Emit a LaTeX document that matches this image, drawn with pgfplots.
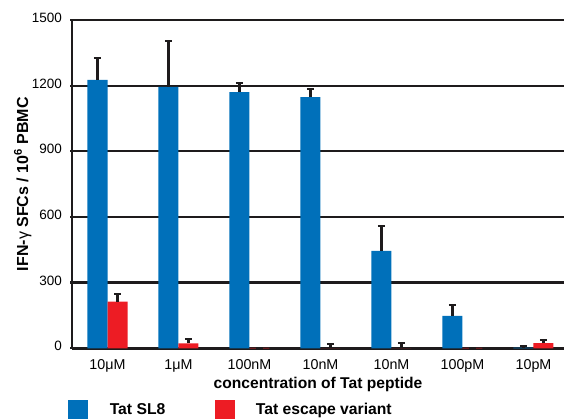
\documentclass[border=0pt]{standalone}
\usepackage{pgfplots}
\pgfplotsset{compat=1.18}
\usepackage{fontspec}
\setmainfont{Liberation Sans}
\definecolor{tatblue}{RGB}{0,112,186}
\definecolor{tatred}{RGB}{237,28,36}
\definecolor{ink}{RGB}{30,27,28}
\pgfplotsset{myerr/.style={error bars/.cd, y dir=plus, y explicit,
  error bar style={draw=ink, line width=2.1pt},
  error mark options={draw=ink, line width=2.1pt, mark size=3.5pt, rotate=90}}}
\begin{document}
\begin{tikzpicture}
\useasboundingbox (0,0) rectangle (564pt,419pt);
\begin{axis}[
  at={(72pt,70.7pt)}, anchor=south west,
  scale only axis, width=492pt, height=328.3pt,
  xmin=-0.5, xmax=6.43, ymin=0, ymax=1500,
  clip=false,
  axis x line*=bottom, axis y line*=left,
  axis line style={ink, line width=2.6pt},
  ytick={0,300,...,1500},
  ymajorgrids, major grid style={draw=ink, line width=2.3pt},
  tick align=outside,
  major tick length=2pt,
  ytick style={ink, line width=2.3pt},
  xtick={0,...,6},
  xticklabels={10μM,1μM,100nM,10nM,10nM,100pM,10pM},
  xtick style={draw=none},
  minor xtick={-0.5,0.5,...,6.5},
  minor tick style={ink, line width=2.2pt},
  minor tick length=5pt,
  /pgf/number format/assume math mode=true,
  /pgf/number format/1000 sep={},
  yticklabel style={font=\fontsize{13.5}{15}\selectfont, inner sep=0pt, xshift=-8pt, yshift=2pt},
  xticklabel style={font=\fontsize{14.3}{16}\selectfont, inner sep=0pt, yshift=-9pt},
  ylabel={\bfseries IFN-{\mdseries γ} SFCs / 10\textsuperscript{6} PBMC},
  ylabel style={font=\fontsize{16}{18}\selectfont, at={(rel axis cs:0,0.5)}, anchor=south, yshift=37pt},
  xlabel={\bfseries concentration of Tat peptide},
  xlabel style={font=\fontsize{15.6}{18}\selectfont, at={(rel axis cs:0.5,0)}, anchor=center, yshift=-36.5pt},
  ybar=0pt, bar width=20pt,
  legend columns=2,
  legend style={draw=none, fill=none, at={(rel axis cs:-0.014,-0.188)}, anchor=west,
    font=\fontsize{15.7}{17}\selectfont\bfseries,
    /tikz/every even column/.append style={column sep=50pt},
    nodes={inner sep=0pt}},
  legend image code/.code={\fill[#1, draw=none] (0pt,-10pt) rectangle (19.5pt,10pt);},
  legend cell align=left,
]
\addplot[fill=tatblue, draw=none, myerr] coordinates {
  (0,1226) +- (0,100)
  (1,1194) +- (0,210)
  (2,1171) +- (0,41)
  (3,1148) +- (0,36)
  (4,445)  +- (0,114)
  (5,148)  +- (0,48)
  (6,3)    +- (0,8)
};
\addlegendentry{\hspace{22pt}Tat SL8}
\addplot[fill=tatred, draw=none, myerr] coordinates {
  (0,213) +- (0,34)
  (1,23)  +- (0,18)
  (2,2)   +- (0,0)
  (3,0)   +- (0,18)
  (4,0)   +- (0,23)
  (5,2)   +- (0,0)
  (6,24)  +- (0,14)
};
\addlegendentry{\hspace{21pt}Tat escape variant}
\end{axis}
\end{tikzpicture}
\end{document}
